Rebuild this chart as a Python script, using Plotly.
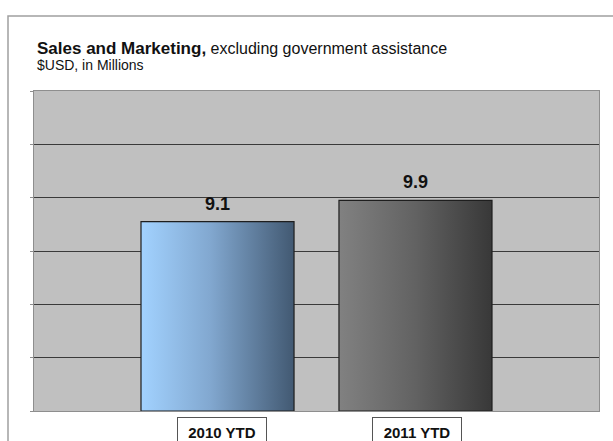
import plotly.graph_objects as go

# ---- data ----
categories = ["2010 YTD", "2011 YTD"]
values = [9.1, 9.9]
value_labels = ["9.1", "9.9"]
y_ticks = [2, 4, 6, 8, 10, 12, 14]

title_bold = "Sales and Marketing,"
title_rest = " excluding government assistance"
subtitle = "$USD, in Millions"

# ---- layout constants ----
Y_MIN, Y_MAX = 2, 14
BAR_W = 0.773
X_RANGE = [-0.927, 1.927]

W, H = 613, 441
L, R, T, B = 34, 14, 91, 30
PW = W - L - R
PH = H - T - B
FONT = "Liberation Sans, Arial"


def px_x(px):
    return (px - L) / PW


def px_y(py):
    return (H - B - py) / PH


gradients = [
    [[0, "#A2D2FF"], [0.45, "#82A8D0"], [1, "#425972"]],
    [[0, "#818181"], [0.5, "#626262"], [1, "#383838"]],
]
label_shift = [4, 2]

fig = go.Figure()
for i, (cat, v) in enumerate(zip(categories, values)):
    x0, x1 = i - BAR_W / 2, i + BAR_W / 2
    fig.add_trace(go.Scatter(
        x=[x0, x1, x1, x0, x0], y=[Y_MIN, Y_MIN, v, v, Y_MIN],
        fill="toself", mode="lines",
        line=dict(color="#1E1E1E", width=1.2),
        fillgradient=dict(type="horizontal", colorscale=gradients[i]),
        hoverinfo="skip", showlegend=False, name=cat,
    ))
    fig.add_annotation(
        x=i, y=v, xref="x", yref="y", text=f"<b>{value_labels[i]}</b>",
        showarrow=False, yanchor="middle", yshift=18,
        font=dict(family=FONT, size=18, color="#111111"),
    )
    fig.add_annotation(
        x=i, y=px_y(432), xref="x", yref="paper", text=f"<b>{cat}</b>",
        showarrow=False, yanchor="middle", xanchor="center", xshift=label_shift[i],
        width=86, height=26, borderpad=1, borderwidth=1,
        bordercolor="#555555", bgcolor="#FFFFFF",
        font=dict(family=FONT, size=15, color="#111111"),
    )

fig.add_annotation(
    x=px_x(35), y=px_y(48), xref="paper", yref="paper", xanchor="left", yanchor="middle",
    text=f"<b><span style='font-size:17px'>{title_bold}</span></b>"
         f"<span style='font-size:16px'>{title_rest}</span>",
    showarrow=False, font=dict(family=FONT, size=17, color="#111111"),
)
fig.add_annotation(
    x=px_x(35), y=px_y(65), xref="paper", yref="paper", xanchor="left", yanchor="middle",
    text=subtitle, showarrow=False,
    font=dict(family=FONT, size=14, color="#111111"),
)

# outer frame
fig.add_shape(type="rect", xref="paper", yref="paper",
              x0=px_x(8), x1=px_x(700), y0=px_y(520), y1=px_y(16),
              line=dict(color="#A0A0A0", width=1.5), fillcolor="rgba(0,0,0,0)", layer="below")

fig.update_xaxes(range=X_RANGE, showgrid=False, zeroline=False, showticklabels=False,
                 showline=True, mirror=True, linecolor="#8E8E8E", linewidth=1, ticks="")
fig.update_yaxes(range=[Y_MIN, Y_MAX], tickvals=y_ticks, showgrid=True, gridcolor="#3A3A3A",
                 gridwidth=1, zeroline=False, showticklabels=False, showline=True, mirror=True,
                 linecolor="#8E8E8E", linewidth=1, ticks="outside", ticklen=3, tickcolor="#8E8E8E")

fig.update_layout(
    width=W, height=H, margin=dict(l=L, r=R, t=T, b=B, autoexpand=False),
    plot_bgcolor="#C0C0C0", paper_bgcolor="#FFFFFF", showlegend=False,
)

fig.write_html("out.html")
